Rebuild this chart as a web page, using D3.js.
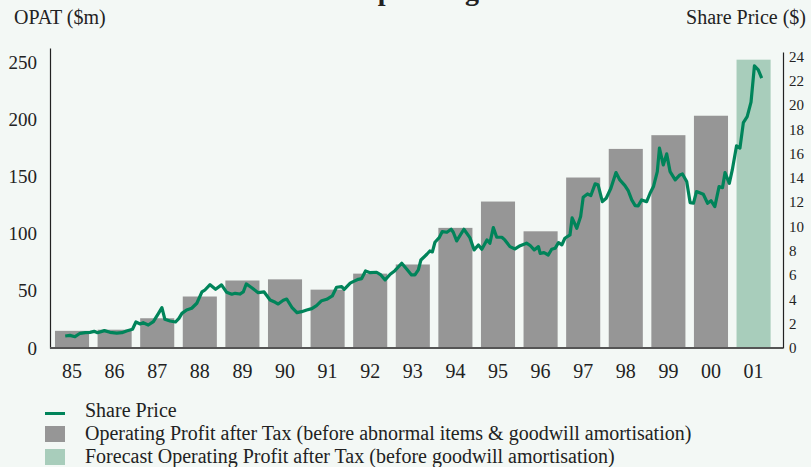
<!DOCTYPE html>
<html>
<head>
<meta charset="utf-8">
<script src="https://cdn.jsdelivr.net/npm/d3@7"></script>
<style>
  body { margin: 0; background: #f3f8f5; }
  svg { display: block; font-family: "Liberation Serif", serif; }
</style>
</head>
<body>
<svg id="chart" width="811" height="467"></svg>
<script>
// OPAT bars, $m
const years = ["85","86","87","88","89","90","91","92","93","94","95","96","97","98","99","00","01"];
const opat = [15, 16, 26, 45, 59, 60, 51, 65, 73, 105, 128, 102, 149, 174, 186, 203, 252];
const forecastYear = "01";

// share price, decimal year vs $
const priceTime = [1985.34,1985.45,1985.57,1985.69,1985.81,1985.92,1986.02,1986.10,1986.26,1986.39,1986.55,1986.67,1986.78,1986.92,
  1987.00,1987.10,1987.17,1987.29,1987.41,1987.53,1987.61,1987.68,1987.80,1987.93,1988.01,1988.08,1988.19,1988.31,1988.43,1988.55,1988.62,
  1988.74,1988.87,1989.01,1989.13,1989.25,1989.33,1989.44,1989.52,1989.59,1989.72,1989.87,1990.01,1990.15,1990.27,1990.34,1990.46,1990.54,
  1990.66,1990.78,1990.89,1991.01,1991.13,1991.24,1991.36,1991.48,1991.61,1991.71,1991.83,1991.89,1992.03,1992.10,1992.22,1992.30,1992.39,
  1992.50,1992.65,1992.75,1992.85,1992.97,1993.08,1993.24,1993.36,1993.47,1993.55,1993.63,1993.69,1993.83,1993.90,1993.96,1994.02,1994.12,
  1994.19,1994.30,1994.40,1994.45,1994.53,1994.70,1994.84,1994.94,1995.04,1995.12,1995.24,1995.31,1995.39,1995.47,1995.59,1995.66,1995.78,
  1995.90,1996.02,1996.17,1996.25,1996.35,1996.45,1996.49,1996.58,1996.68,1996.76,1996.84,1996.92,1997.00,1997.07,1997.19,1997.24,1997.35,
  1997.44,1997.50,1997.60,1997.68,1997.78,1997.85,1997.95,1998.04,1998.15,1998.27,1998.36,1998.48,1998.56,1998.64,1998.72,1998.79,1998.87,
  1998.99,1999.07,1999.15,1999.24,1999.29,1999.38,1999.46,1999.54,1999.66,1999.77,1999.83,1999.93,2000.01,2000.09,2000.16,2000.32,2000.42,
  2000.50,2000.59,2000.69,2000.77,2000.83,2000.93,2001.00,2001.10,2001.18,2001.26,2001.35,2001.44,2001.52,2001.61,2001.69];
const price = [0.99,1.04,0.93,1.21,1.26,1.29,1.37,1.26,1.43,1.29,1.23,1.26,1.40,1.54,
  2.14,1.98,2.08,1.89,2.17,2.85,3.32,2.36,2.22,2.14,2.44,2.85,3.13,3.27,3.68,4.61,4.77,
  5.21,4.83,5.19,4.58,4.42,4.50,4.44,4.61,5.27,4.96,4.55,4.61,3.95,3.76,3.62,3.93,4.03,
  3.35,2.91,2.99,3.13,3.24,3.48,3.89,4.01,4.28,5.00,5.05,4.83,5.33,5.46,5.65,5.71,6.34,
  6.20,6.23,6.01,5.60,6.07,6.36,6.97,6.48,6.01,6.01,6.42,7.24,7.71,7.98,7.90,8.70,9.08,
  9.57,9.52,9.77,9.52,8.81,9.77,9.08,8.07,8.48,8.12,8.89,8.62,9.90,9.11,9.11,8.89,8.34,
  8.15,8.42,8.62,8.45,8.07,8.34,7.79,7.85,7.65,8.12,8.20,8.67,8.48,9.03,9.30,10.70,9.85,
  10.81,12.40,12.67,12.54,13.50,13.42,12.04,12.32,13.14,14.43,13.83,13.36,12.92,12.18,11.71,11.69,12.18,
  12.04,12.73,13.28,14.51,16.44,15.06,15.97,14.51,13.83,14.24,14.32,13.69,11.96,11.91,12.87,12.65,11.91,
  12.12,11.63,13.28,13.19,14.43,13.55,14.65,16.63,16.44,18.54,19.04,20.22,23.21,22.88,22.20];

const leftTicks = [0, 50, 100, 150, 200, 250];
const rightTicks = [0, 2, 4, 6, 8, 10, 12, 14, 16, 18, 20, 22, 24];

const legendItems = [
  { label: "Share Price", kind: "line", color: "#00845a" },
  { label: "Operating Profit after Tax (before abnormal items & goodwill amortisation)", kind: "box", color: "#969696" },
  { label: "Forecast Operating Profit after Tax (before goodwill amortisation)", kind: "box", color: "#a8cdbb" }
];

const svg = d3.select("#chart");
const baseY = 348;

const x = d3.scaleBand().domain(years).range([50, 775.6]).paddingInner(0.2).paddingOuter(0.117);
const yL = d3.scaleLinear().domain([0, 262.2]).range([baseY, 48]);
const yR = d3.scaleLinear().domain([0, 24.35]).range([baseY, 52]);
const half = x.step() * x.paddingInner() / 2;
const t = d3.scaleLinear().domain([1985, 2002]).range([x("85") - half, x("01") + x.bandwidth() + half]);

// title, cut off by the top edge as in the source image
svg.append("text")
  .attr("x", 356).attr("y", 0)
  .attr("font-size", 28).attr("font-weight", "bold")
  .attr("fill", "#222")
  .text("Operating Profit");

svg.append("text").attr("x", 14).attr("y", 24).attr("font-size", 20).attr("fill", "#222").text("OPAT ($m)");
svg.append("text").attr("x", 806).attr("y", 24).attr("font-size", 20).attr("fill", "#222")
  .attr("text-anchor", "end").text("Share Price ($)");

// bars
svg.append("g").selectAll("rect")
  .data(years.map((yr, i) => ({ yr, v: opat[i] })))
  .join("rect")
  .attr("x", d => x(d.yr))
  .attr("width", x.bandwidth())
  .attr("y", d => yL(d.v))
  .attr("height", d => baseY - yL(d.v))
  .attr("fill", d => d.yr === forecastYear ? "#a8cdbb" : "#969696");

// left axis
const gl = svg.append("g").attr("transform", "translate(50,0)")
  .call(d3.axisLeft(yL).tickValues(leftTicks).tickSize(0).tickSizeOuter(0).tickPadding(13));
gl.select(".domain").attr("stroke", "#222").attr("stroke-width", 1.2);
gl.selectAll("text").attr("font-family", "Liberation Serif, serif").attr("font-size", 19).attr("fill", "#222");

// right axis
const gr = svg.append("g").attr("transform", "translate(783,0)")
  .call(d3.axisRight(yR).tickValues(rightTicks).tickSize(0).tickSizeOuter(0).tickPadding(6));
gr.select(".domain").attr("stroke", "#222").attr("stroke-width", 1.2);
gr.selectAll("text").attr("font-family", "Liberation Serif, serif").attr("font-size", 15).attr("fill", "#222");

// baseline + x labels
const gx = svg.append("g").attr("transform", `translate(0,${baseY})`)
  .call(d3.axisBottom(x).tickSize(0).tickPadding(16));
gx.select(".domain").attr("d", "M50,0H783").attr("stroke", "#555").attr("stroke-width", 2);
gx.selectAll("text").attr("font-family", "Liberation Serif, serif").attr("font-size", 20).attr("fill", "#222");

// share price line
const line = d3.line().x(d => t(d[0])).y(d => yR(d[1]));
svg.append("path")
  .datum(priceTime.map((tt, i) => [tt, price[i]]))
  .attr("d", line)
  .attr("fill", "none")
  .attr("stroke", "#00845a")
  .attr("stroke-width", 3.2)
  .attr("stroke-linejoin", "round");

// legend
const lg = svg.append("g").selectAll("g").data(legendItems).join("g")
  .attr("transform", (d, i) => `translate(45,${411 + i * 23})`);
lg.filter(d => d.kind === "line").append("rect")
  .attr("x", 0).attr("y", 1).attr("width", 20).attr("height", 3).attr("fill", d => d.color);
lg.filter(d => d.kind === "box").append("rect")
  .attr("x", 0).attr("y", -8).attr("width", 20).attr("height", 16).attr("fill", d => d.color);
lg.append("text").attr("x", 40).attr("y", 6).attr("font-size", 20).attr("fill", "#222").text(d => d.label);
</script>
</body>
</html>
